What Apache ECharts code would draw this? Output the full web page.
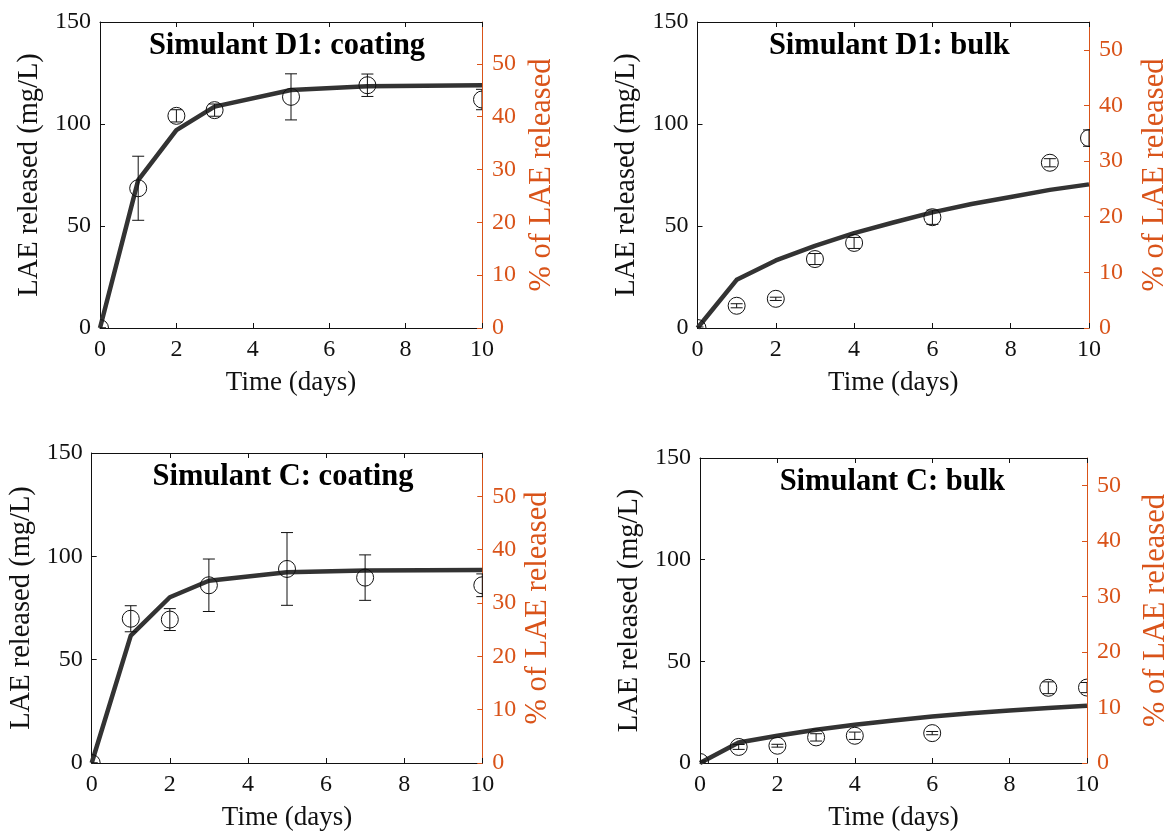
<!DOCTYPE html>
<html>
<head>
<meta charset="utf-8">
<script src="https://cdn.jsdelivr.net/npm/echarts@6/dist/echarts.min.js"></script>
<style>
html,body{margin:0;padding:0;background:#fff;}
#c{width:1172px;height:836px;}
</style>
</head>
<body>
<div id="c"></div>
<script>
// ---- Data ----
const titles = ['Simulant D1: coating', 'Simulant D1: bulk', 'Simulant C: coating', 'Simulant C: bulk'];
const xTicks = [0, 2, 4, 6, 8, 10];
const leftTicks = [0, 50, 100, 150];
const rightTicks = [0, 10, 20, 30, 40, 50];

// Simulant D1: coating
const d1CoatDays = [0, 1, 2, 3, 5, 7, 10];
const d1CoatMean = [0, 68.5, 104, 106.8, 113.3, 119, 112];
const d1CoatErr  = [0, 15.7, 3, 3, 11.3, 5.5, 5];
const d1CoatFitDays = [0, 1, 2, 3, 5, 7, 10];
const d1CoatFit  = [0, 72.5, 97, 108.5, 116.7, 118.5, 119];

// Simulant D1: bulk
const d1BulkDays = [0, 1, 2, 3, 4, 6, 9, 10];
const d1BulkMean = [0, 10.9, 14.3, 33.8, 41.7, 54.3, 81, 93.1];
const d1BulkErr  = [0.5, 1, 0.8, 2.7, 2.7, 3.5, 2, 4];
const d1BulkFitDays = [0, 1, 2, 3, 4, 5, 6, 7, 8, 9, 10];
const d1BulkFit  = [0, 23.6, 33.1, 40.3, 46.5, 51.7, 56.7, 60.8, 64.2, 67.7, 70.4];

// Simulant C: coating
const cCoatDays = [0, 1, 2, 3, 5, 7, 10];
const cCoatMean = [0, 69.8, 69.4, 86, 93.9, 89.7, 86];
const cCoatErr  = [0, 6.3, 5.3, 12.7, 17.6, 11, 5.5];
const cCoatFitDays = [0, 1, 2, 3, 5, 7, 10];
const cCoatFit  = [0, 61.6, 80.2, 88.2, 92.3, 93.2, 93.4];

// Simulant C: bulk
const cBulkDays = [0, 1, 2, 3, 4, 6, 9, 10];
const cBulkMean = [0.5, 7.9, 8.5, 12.6, 13.4, 14.7, 37, 37.1];
const cBulkErr  = [0.5, 1.2, 0.7, 1.8, 1.8, 0.8, 2.9, 2.5];
const cBulkFitDays = [0, 1, 2, 3, 4, 5, 6, 7, 8, 9, 10];
const cBulkFit  = [0, 10.1, 13.4, 16.4, 18.8, 20.9, 22.9, 24.5, 25.8, 27, 28.1];

// right axis (% of LAE) upper bounds per panel
const rightMax = [57.9, 55, 58.1, 55];

// ---- Layout / style ----
const FONT = 'Liberation Serif';
const ORANGE = '#D95319';
const INK = '#111111';
const grids = [
  {left: 100, top: 22, width: 382, height: 306},
  {left: 697.5, top: 22, width: 391.5, height: 306},
  {left: 91.7, top: 453, width: 390.6, height: 310},
  {left: 700, top: 458, width: 392.7, height: 305}
];
const rightGap = [44, 50, 40, 53];

const panels = [
  {days: d1CoatDays, mean: d1CoatMean, err: d1CoatErr, fx: d1CoatFitDays, fy: d1CoatFit},
  {days: d1BulkDays, mean: d1BulkMean, err: d1BulkErr, fx: d1BulkFitDays, fy: d1BulkFit},
  {days: cCoatDays, mean: cCoatMean, err: cCoatErr, fx: cCoatFitDays, fy: cCoatFit},
  {days: cBulkDays, mean: cBulkMean, err: cBulkErr, fx: cBulkFitDays, fy: cBulkFit}
];

function renderErr(params, api) {
  const x = api.value(0), y = api.value(1), e = api.value(2);
  const c = api.coord([x, y]);
  const t = api.coord([x, y + e]);
  const b = api.coord([x, y - e]);
  const cap = 6;
  const st = {stroke: INK, lineWidth: 1, fill: null};
  return {
    type: 'group',
    children: [
      {type: 'circle', shape: {cx: c[0], cy: c[1], r: 8.5}, style: {stroke: INK, fill: 'none', lineWidth: 1}},
      {type: 'line', shape: {x1: c[0], y1: t[1], x2: c[0], y2: b[1]}, style: st},
      {type: 'line', shape: {x1: c[0] - cap, y1: t[1], x2: c[0] + cap, y2: t[1]}, style: st},
      {type: 'line', shape: {x1: c[0] - cap, y1: b[1], x2: c[0] + cap, y2: b[1]}, style: st}
    ]
  };
}

const option = {
  animation: false,
  backgroundColor: '#ffffff',
  grid: grids.map(g => Object.assign({containLabel: false}, g)),
  xAxis: [],
  yAxis: [],
  series: [],
  graphic: []
};

grids.forEach((g, i) => {
  // bottom x axis
  option.xAxis.push({
    type: 'value', gridIndex: i, position: 'bottom', min: xTicks[0], max: xTicks[xTicks.length - 1], interval: 2,
    name: 'Time (days)', nameLocation: 'middle', nameGap: 41,
    nameTextStyle: {fontFamily: FONT, fontSize: 27, color: INK},
    axisLine: {show: true, onZero: false, lineStyle: {color: INK, width: 1}},
    axisTick: {show: true, inside: true, length: 5, lineStyle: {color: INK}},
    axisLabel: {fontFamily: FONT, fontSize: 24, color: INK, margin: 10},
    splitLine: {show: false}
  });
  // top x axis (box border)
  option.xAxis.push({
    type: 'value', gridIndex: i, position: 'top', min: xTicks[0], max: xTicks[xTicks.length - 1], interval: 2,
    axisLine: {show: true, onZero: false, lineStyle: {color: INK, width: 1}},
    axisTick: {show: true, inside: true, length: 5, lineStyle: {color: INK}},
    axisLabel: {show: false},
    splitLine: {show: false}
  });
  // left y axis
  option.yAxis.push({
    type: 'value', gridIndex: i, position: 'left', min: leftTicks[0], max: leftTicks[leftTicks.length - 1], interval: 50,
    name: 'LAE released (mg/L)', nameLocation: 'middle', nameGap: 56,
    nameTextStyle: {fontFamily: FONT, fontSize: 28.5, color: INK},
    axisLine: {show: true, onZero: false, lineStyle: {color: INK, width: 1}},
    axisTick: {show: true, inside: true, length: 5, lineStyle: {color: INK}},
    axisLabel: {fontFamily: FONT, fontSize: 24, color: INK, margin: 9},
    splitLine: {show: false}
  });
  // right y axis (% of LAE)
  option.yAxis.push({
    type: 'value', gridIndex: i, position: 'right', min: rightTicks[0], max: rightMax[i], interval: 10,
    name: '% of LAE released', nameLocation: 'middle', nameGap: rightGap[i],
    nameTextStyle: {fontFamily: FONT, fontSize: 30.5, color: ORANGE},
    axisLine: {show: true, onZero: false, lineStyle: {color: ORANGE, width: 1}},
    axisTick: {show: true, inside: true, length: 5, lineStyle: {color: ORANGE}, customValues: rightTicks},
    axisLabel: {fontFamily: FONT, fontSize: 24, color: ORANGE, margin: 10, customValues: rightTicks},
    splitLine: {show: false}
  });

  const p = panels[i];
  option.series.push({
    type: 'line', xAxisIndex: 2 * i, yAxisIndex: 2 * i,
    data: p.fx.map((d, k) => [d, p.fy[k]]),
    showSymbol: false, symbol: 'none', clip: true, z: 2,
    lineStyle: {color: '#333333', width: 4.5, cap: 'butt', join: 'round'}
  });
  option.series.push({
    type: 'custom', xAxisIndex: 2 * i, yAxisIndex: 2 * i, clip: true, z: 3,
    data: p.days.map((d, k) => [d, p.mean[k], p.err[k]]),
    encode: {x: 0, y: 1},
    renderItem: renderErr
  });

  option.graphic.push({
    type: 'text',
    x: g.left + g.width / 2 - 4,
    y: g.top + 24,
    style: {
      text: titles[i], fill: '#000', font: 'bold 30.5px "Liberation Serif"',
      textAlign: 'center', textVerticalAlign: 'middle'
    },
    z: 10
  });
});

const chart = echarts.init(document.getElementById('c'), null, {renderer: 'canvas'});
chart.setOption(option);
</script>
</body>
</html>
